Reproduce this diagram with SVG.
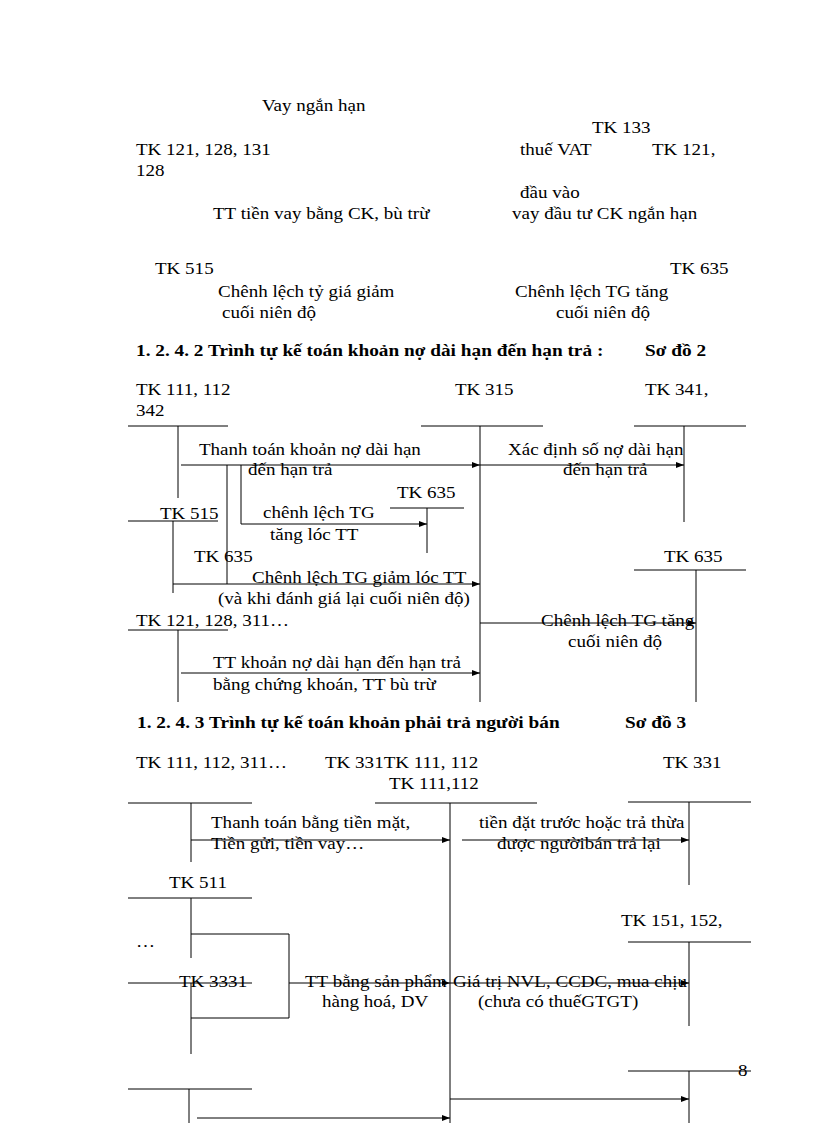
<svg xmlns="http://www.w3.org/2000/svg" width="816" height="1123" viewBox="0 0 816 1123">
<defs>
<marker id="ah" markerWidth="9" markerHeight="7" refX="8" refY="3" orient="auto" markerUnits="userSpaceOnUse"><path d="M0,0 L8,3 L0,6 z" fill="#000"/></marker>
<style>
text{font-family:"Liberation Serif","Times New Roman",serif;font-size:17px;fill:#000;transform-box:fill-box;transform-origin:0% 50%;transform:scaleX(1.12)}
.h{font-weight:bold;font-size:16.5px;transform:scaleX(1.17)}
line,polyline{stroke:#000;stroke-width:1;fill:none}
.a{marker-end:url(#ah)}
</style>
</defs>
<rect width="816" height="1123" fill="#fff"/>

<g id="top">
<text x="262" y="111">Vay ngắn hạn</text>
<text x="592" y="133">TK 133</text>
<text x="136" y="155">TK 121, 128, 131</text>
<text x="520" y="155">thuế VAT</text>
<text x="652" y="155">TK 121,</text>
<text x="136" y="176">128</text>
<text x="520" y="198">đầu vào</text>
<text x="213" y="219">TT tiền vay bằng CK, bù trừ</text>
<text x="512" y="219">vay đầu tư CK ngắn hạn</text>
<text x="155" y="274">TK 515</text>
<text x="670" y="274">TK 635</text>
<text x="218" y="297">Chênh lệch tỷ giá giảm</text>
<text x="222" y="318"> cuối niên  độ</text>
<text x="515" y="297">Chênh lệch TG tăng</text>
<text x="556" y="318">cuối niên  độ</text>
</g>

<text class="h" x="136" y="356">1. 2. 4. 2 Trình tự kế toán khoản nợ dài hạn đến hạn trả :</text>
<text class="h" x="645" y="356">Sơ đồ 2</text>

<g id="tk111a"><text x="136" y="395">TK 111, 112</text><text x="136" y="416">342</text><line x1="128" y1="426" x2="228" y2="426"/><line x1="178" y1="426" x2="178" y2="498"/></g>
<g id="tk315"><text x="455" y="395">TK 315</text><line x1="421" y1="426" x2="543" y2="426"/><line x1="480" y1="426" x2="480" y2="702"/></g>
<g id="tk341"><text x="645" y="395">TK 341,</text><line x1="634" y1="426" x2="746" y2="426"/><line x1="684" y1="426" x2="684" y2="522"/></g>
<g id="tk635s"><text x="397" y="498">TK 635</text><line x1="390" y1="508" x2="464" y2="508"/><line x1="427" y1="508" x2="427" y2="553"/></g>
<g id="tk515"><text x="160" y="519">TK 515</text><line x1="128" y1="521" x2="218" y2="521"/><line x1="173" y1="521" x2="173" y2="593"/></g>
<g id="tk635l"><text x="194" y="562">TK 635</text></g>
<g id="tk635r"><text x="664" y="562">TK 635</text><line x1="634" y1="570" x2="746" y2="570"/><line x1="696" y1="570" x2="696" y2="702"/></g>
<g id="tk121b"><text x="136" y="626">TK 121, 128, 311…</text><line x1="128" y1="630" x2="228" y2="630"/><line x1="178" y1="630" x2="178" y2="702"/></g>

<g id="labels2">
<text x="199" y="455">Thanh toán khoản nợ dài hạn</text>
<text x="248" y="475">đến hạn trả</text>
<text x="508" y="455">Xác định số nợ dài hạn</text>
<text x="563" y="475">đến hạn trả</text>
<text x="263" y="518">chênh lệch TG</text>
<text x="270" y="540">tăng lóc TT</text>
<text x="252" y="583">Chênh lệch TG giảm lóc TT</text>
<text x="218" y="604">(và khi  đánh giá lại  cuối niên  độ)</text>
<text x="541" y="626">Chênh lệch TG tăng</text>
<text x="568" y="647">cuối niên  độ</text>
<text x="213" y="668">TT khoản nợ dài hạn  đến hạn trả</text>
<text x="213" y="690">bằng chứng khoán, TT bù trừ</text>
</g>

<text class="h" x="137" y="728">1. 2. 4. 3 Trình tự kế toán khoản phải trả người bán</text>
<text class="h" x="625" y="728">Sơ đồ 3</text>

<g id="tk111c"><text x="136" y="768">TK 111, 112, 311…</text><line x1="128" y1="803" x2="252" y2="803"/><line x1="191" y1="803" x2="191" y2="862"/></g>
<g id="tk331m"><text x="325" y="768">TK 331TK 111, 112</text><text x="389" y="789">TK 111,112</text><line x1="375" y1="803" x2="537" y2="803"/><line x1="450" y1="803" x2="450" y2="1123"/></g>
<g id="tk331r"><text x="663" y="768">TK 331</text><line x1="628" y1="802" x2="751" y2="802"/><line x1="689" y1="802" x2="689" y2="885"/></g>
<g id="tk511"><text x="169" y="888">TK 511</text><line x1="128" y1="898" x2="252" y2="898"/><line x1="191" y1="898" x2="191" y2="958"/><text x="136" y="947">…</text></g>
<g id="tk151"><text x="621" y="926">TK 151, 152,</text><line x1="628" y1="942" x2="751" y2="942"/><line x1="689" y1="942" x2="689" y2="1026"/></g>
<g id="tk3331"><text x="179" y="987">TK 3331</text><line x1="128" y1="983" x2="252" y2="983"/><line x1="191" y1="983" x2="191" y2="1054"/></g>
<g id="tkbl"><line x1="128" y1="1089" x2="252" y2="1089"/><line x1="189" y1="1089" x2="189" y2="1123"/></g>
<g id="tkbr"><text x="738" y="1076">8</text><line x1="628" y1="1071" x2="751" y2="1071"/><line x1="689" y1="1071" x2="689" y2="1123"/></g>

<g id="labels3">
<text x="211" y="828">Thanh toán bằng tiền mặt,</text>
<text x="211" y="849">Tiền gửi, tiền vay…</text>
<text x="479" y="828">tiền  đặt trước hoặc trả thừa</text>
<text x="497" y="849">được ngườibán  trả lại</text>
<text x="305" y="987">TT bằng sản phẩm</text>
<text x="322" y="1007">hàng hoá, DV</text>
<text x="453" y="987">Giá trị NVL, CCDC, mua chịu</text>
<text x="478" y="1007">(chưa có thuếGTGT)</text>
</g>

<g id="connectors">
<line class="a" x1="181" y1="465" x2="480" y2="465"/>
<line class="a" x1="480" y1="465" x2="684" y2="465"/>
<line x1="227" y1="465" x2="227" y2="584"/>
<line x1="241" y1="465" x2="241" y2="524"/>
<line class="a" x1="241" y1="524" x2="427" y2="524"/>
<line class="a" x1="173" y1="584" x2="480" y2="584"/>
<line class="a" x1="480" y1="623" x2="696" y2="623"/>
<line class="a" x1="181" y1="673" x2="480" y2="673"/>
<line class="a" x1="191" y1="840" x2="450" y2="840"/>
<line class="a" x1="462" y1="840" x2="689" y2="840"/>
<polyline points="191,934 289,934 289,1018 191,1018"/>
<line class="a" x1="289" y1="983" x2="450" y2="983"/>
<line class="a" x1="450" y1="983" x2="689" y2="983"/>
<line class="a" x1="197" y1="1118" x2="450" y2="1118"/>
<line class="a" x1="450" y1="1099" x2="689" y2="1099"/>
</g>
</svg>
